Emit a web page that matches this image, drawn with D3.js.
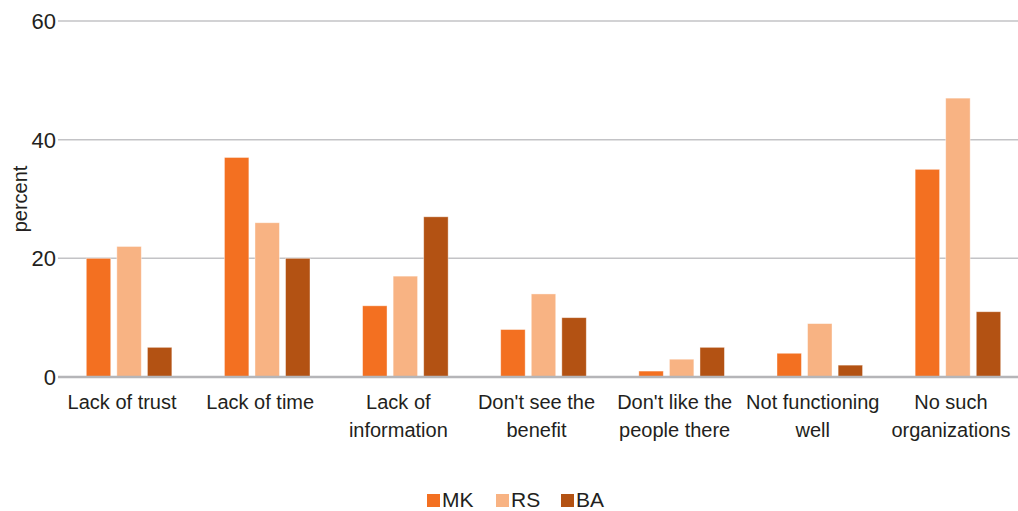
<!DOCTYPE html>
<html>
<head>
<meta charset="utf-8">
<script src="https://cdn.jsdelivr.net/npm/d3@7"></script>
<style>
  html, body { margin: 0; padding: 0; background: #fff; }
  svg { display: block; font-family: "Liberation Sans Narrow", "Arial Narrow", "Liberation Sans", sans-serif; }
</style>
</head>
<body>
<svg id="chart" width="1018" height="511"></svg>
<script>
// Reasons for not participating in organizations, by country (percent)
const categories = [
  ["Lack of trust"],
  ["Lack of time"],
  ["Lack of", "information"],
  ["Don't see the", "benefit"],
  ["Don't like the", "people there"],
  ["Not functioning", "well"],
  ["No such", "organizations"]
];
const seriesNames = ["MK", "RS", "BA"];
const seriesColors = ["#F37021", "#F8B383", "#B35213"];
const valuesMK = [20, 37, 12, 8, 1, 4, 35];
const valuesRS = [22, 26, 17, 14, 3, 9, 47];
const valuesBA = [5, 20, 27, 10, 5, 2, 11];
const yTicks = [0, 20, 40, 60];

const seriesValues = [valuesMK, valuesRS, valuesBA];

const svg = d3.select("#chart");
const plot = { left: 58, right: 1018, top: 21, bottom: 377 };

const x0 = d3.scaleBand()
  .domain(d3.range(categories.length))
  .range([60, 1027])
  .padding(0);

const x1 = d3.scaleBand()
  .domain(seriesNames)
  .range([0, x0.bandwidth()])
  .paddingInner(0.2)
  .paddingOuter(0.86);

const y = d3.scaleLinear().domain([0, 60]).range([plot.bottom, plot.top]);

// horizontal gridlines
svg.append("g")
  .selectAll("line")
  .data(yTicks.filter(t => t !== 0))
  .join("line")
  .attr("x1", plot.left)
  .attr("x2", plot.right)
  .attr("y1", d => y(d))
  .attr("y2", d => y(d))
  .attr("stroke", "#C3C3C6")
  .attr("stroke-width", 1.5);

// y tick labels
svg.append("g")
  .selectAll("text")
  .data(yTicks)
  .join("text")
  .attr("x", 56)
  .attr("y", d => y(d))
  .attr("dy", "0.36em")
  .attr("text-anchor", "end")
  .attr("font-size", 22)
  .attr("fill", "#231F20")
  .text(d => d);

// axis title
svg.append("text")
  .attr("transform", `translate(27, ${y(30)})rotate(-90)`)
  .attr("text-anchor", "middle")
  .attr("font-size", 20)
  .attr("fill", "#231F20")
  .text("percent");

// bars
const groups = svg.append("g")
  .selectAll("g")
  .data(categories.map((c, i) => i))
  .join("g")
  .attr("transform", i => `translate(${x0(i)},0)`);

groups.selectAll("rect")
  .data(i => seriesNames.map((s, k) => ({ s, k, v: seriesValues[k][i] })))
  .join("rect")
  .attr("x", d => x1(d.s))
  .attr("width", x1.bandwidth())
  .attr("y", d => y(d.v))
  .attr("height", d => y(0) - y(d.v))
  .attr("fill", d => seriesColors[d.k])
  .attr("stroke", "#fff")
  .attr("stroke-opacity", 0.5)
  .attr("stroke-width", 0.8);

// baseline
svg.append("line")
  .attr("x1", plot.left)
  .attr("x2", plot.right)
  .attr("y1", y(0))
  .attr("y2", y(0))
  .attr("stroke", "#B5B5B8")
  .attr("stroke-width", 2.5);

// category labels
const catLabels = svg.append("g")
  .selectAll("text")
  .data(categories)
  .join("text")
  .attr("x", (d, i) => x0(i) + x0.bandwidth() / 2 - 7)
  .attr("y", 409)
  .attr("text-anchor", "middle")
  .attr("font-size", 20)
  .attr("fill", "#231F20");
catLabels.selectAll("tspan")
  .data(d => d)
  .join("tspan")
  .attr("x", function () { return d3.select(this.parentNode).attr("x"); })
  .attr("dy", (d, j) => j === 0 ? 0 : 28)
  .text(d => d);

// legend
const legendX = [427, 496, 561];
const legend = svg.append("g")
  .selectAll("g")
  .data(seriesNames)
  .join("g")
  .attr("transform", (d, i) => `translate(${legendX[i]},494)`);
legend.append("rect")
  .attr("width", 13)
  .attr("height", 13)
  .attr("fill", (d, i) => seriesColors[i]);
legend.append("text")
  .attr("x", 15)
  .attr("y", 13)
  .attr("font-size", 21)
  .attr("fill", "#231F20")
  .text(d => d);
</script>
</body>
</html>
